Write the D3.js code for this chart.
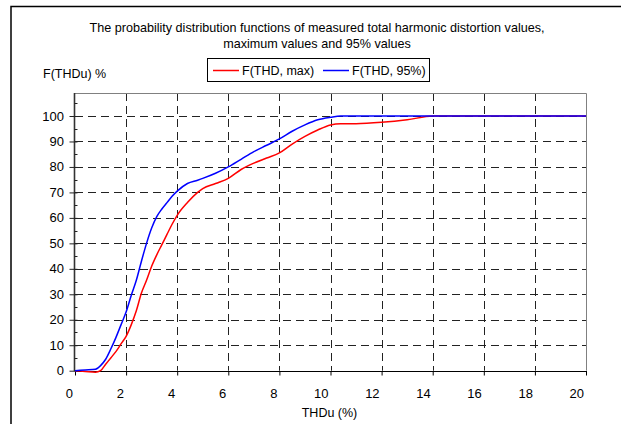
<!DOCTYPE html>
<html><head><meta charset="utf-8">
<script src="https://cdn.jsdelivr.net/npm/d3@7"></script>
<style>body{margin:0;background:#fff}svg{display:block;font-family:"Liberation Sans",Arial,sans-serif}</style>
</head><body>
<svg id="c" width="621" height="424"></svg>
<script>
const thd = [0,0.4,0.8,1.0,1.2,1.4,1.6,1.8,2.0,2.2,2.4,2.6,2.8,3.0,3.2,3.4,3.6,3.8,4.0,4.4,4.8,5.0,5.5,6.0,6.5,7.0,7.5,8.0,8.5,9.0,9.5,10.0,10.4,11,12,13,14,16,18,20];
const fMax = [0,-0.3,-0.6,0,2.5,5,7.5,10.5,13.5,18,23.5,30.5,35.5,41,45.5,49.5,53.5,57.5,61,66,70,71.5,73.5,75.5,79,81.5,83.5,85.5,89,92,94.5,96.5,97,97,97.5,98.5,100,100,100,100];
const f95 = [0,0.3,0.6,2,4.5,8.5,13,18,23,29.5,35.5,43,50,56,60.5,63.5,66,68.5,70.5,73.5,74.8,75.5,77.5,80,83,86,88.5,91,94,96.5,98.5,99.5,100,100,100,100,100,100,100,100];
const xTicks = [0,2,4,6,8,10,12,14,16,18,20];
const yTicks = [0,10,20,30,40,50,60,70,80,90,100];
const yMinor = [5,15,25,35,45,55,65,75,85,95,105];
const seriesNames = ["F(THD, max)","F(THD, 95%)"];
const seriesColors = ["#ff0000","#0000ff"];
const titleLines = ["The probability distribution functions of measured total harmonic distortion values,","maximum values and 95% values"];

const svg = d3.select("#c");
const L = 75, R = 586, T = 93, B = 370.7;
const x = d3.scaleLinear().domain([0,20]).range([L,R]);
const y = d3.scaleLinear().domain([0,100]).range([B,116]);

// outer frame
svg.append("path").attr("d","M11,424V6.5H621").attr("fill","none").attr("stroke","#000").attr("stroke-width",1.5);

// title
svg.append("g").selectAll("text").data(titleLines).join("text")
  .attr("x",317).attr("y",(d,i)=>32+i*16).attr("text-anchor","middle")
  .attr("font-size",12.6).attr("fill","#000").text(d=>d);

svg.append("text").attr("x",43).attr("y",78).attr("font-size",12.5).text("F(THDu) %");

// grid
const grid = svg.append("g").attr("stroke","#222").attr("stroke-width",1).attr("stroke-dasharray","8,5");
grid.selectAll("line.h").data(yTicks.filter(d=>d>0)).join("line").attr("class","h")
  .attr("x1",L).attr("x2",R).attr("y1",d=>Math.round(y(d))+0.5).attr("y2",d=>Math.round(y(d))+0.5);
grid.selectAll("line.v").data(xTicks.filter(d=>d>0&&d<20)).join("line").attr("class","v")
  .attr("y1",T).attr("y2",B).attr("x1",d=>Math.round(x(d))+0.5).attr("x2",d=>Math.round(x(d))+0.5);

// plot border top/right
svg.append("path").attr("d",`M${L},${T+0.5}H${R+0.5}V${B}`).attr("fill","none").attr("stroke","#808080").attr("stroke-width",1);

// bottom axis
const xAxis = d3.axisBottom(x).tickValues(xTicks).tickSize(4).tickFormat("");
const gx = svg.append("g").attr("transform",`translate(0,${Math.round(B)+0.5})`).call(xAxis);
gx.select(".domain").attr("d",`M${L},0H${R+1}`).attr("stroke","#000");
gx.selectAll(".tick line").attr("stroke","#000");
svg.append("g").selectAll("text").data(xTicks).join("text")
  .attr("x",d=>x(d)-2).attr("y",397.5).attr("text-anchor","end").attr("font-size",13).text(d=>d);
svg.append("text").attr("x",(L+R)/2-1).attr("y",417).attr("text-anchor","middle").attr("font-size",12.5).text("THDu (%)");

// left axis
const yAxis = d3.axisLeft(y).tickValues(yTicks).tickSize(0).tickFormat("");
const gy = svg.append("g").attr("transform",`translate(${L-0.5},0)`).call(yAxis);
gy.select(".domain").attr("d",`M0,${T}V${B+0.5}`).attr("stroke","#333").attr("stroke-width",1.6);
gy.selectAll(".tick").append("line").attr("x1",-5).attr("x2",3).attr("stroke","#222");
gy.append("g").selectAll("line").data(yMinor).join("line")
  .attr("x1",0).attr("x2",3).attr("y1",d=>Math.round(y(d))+0.5).attr("y2",d=>Math.round(y(d))+0.5).attr("stroke","#222");
svg.append("g").selectAll("text").data(yTicks).join("text")
  .attr("x",64).attr("y",d=>y(d)+4.5).attr("text-anchor","end").attr("font-size",13).text(d=>d);

// lines
const line = d3.line().x((d,i)=>x(thd[i])).y(d=>y(d)).curve(d3.curveMonotoneX);
[fMax,f95].forEach((s,k)=>{
  svg.append("path").attr("d",line(s)).attr("fill","none").attr("stroke",seriesColors[k]).attr("stroke-width",1.5);
});

// legend
const lg = svg.append("g");
lg.append("rect").attr("x",207.5).attr("y",58.5).attr("width",222).attr("height",23).attr("fill","#fff").attr("stroke","#000").attr("stroke-width",1);
const lx = [213,323];
seriesNames.forEach((n,k)=>{
  lg.append("line").attr("x1",lx[k]).attr("x2",lx[k]+26).attr("y1",70.5).attr("y2",70.5).attr("stroke",seriesColors[k]).attr("stroke-width",1.5);
  lg.append("text").attr("x",lx[k]+29).attr("y",75).attr("font-size",12.5).text(n);
});
</script>
</body></html>
